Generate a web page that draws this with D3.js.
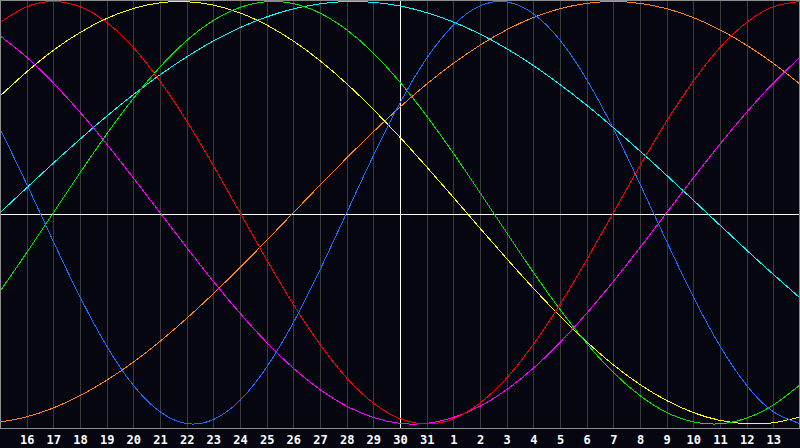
<!DOCTYPE html>
<html lang="en">
  <head>
    <meta charset="utf-8" />
    <title>Biorhythm</title>
    <script src="https://d3js.org/d3.v7.min.js"></script>
    <style type="text/css">
      body {
        margin: 0;
        background-color: #060610;
      }
      .axis text {
        font-family: "DejaVu Sans Mono", monospace;
        font-weight: bold;
        font-size: 12px;
        fill: #ffffff;
      }
      .cycle {
        fill: none;
        stroke-width: 1;
        shape-rendering: crispEdges;
      }
    </style>
  </head>
  <body>
    <script type="text/javascript">
      // Width and height of the plot area
      var w = 800;
      var h = 428;

      // day of month under each grid line (15th .. 14th of next month)
      var days = [15, 16, 17, 18, 19, 20, 21, 22, 23, 24, 25, 26, 27, 28, 29, 30,
        31, 1, 2, 3, 4, 5, 6, 7, 8, 9, 10, 11, 12, 13, 14];
      var todayIndex = 15;

      // cycle values per day, -1 .. 1
      var physical = [0.398, 0.136, -0.136, -0.398, -0.631, -0.817, -0.942, -0.998,
        -0.979, -0.888, -0.731, -0.52, -0.27, 0, 0.27, 0.52, 0.731, 0.888, 0.979,
        0.998, 0.942, 0.817, 0.631, 0.398, 0.136, -0.136, -0.398, -0.631, -0.817,
        -0.942, -0.998];
      var emotional = [0.901, 0.975, 1, 0.975, 0.901, 0.782, 0.623, 0.434, 0.223,
        0, -0.223, -0.434, -0.623, -0.782, -0.901, -0.975, -1, -0.975, -0.901,
        -0.782, -0.623, -0.434, -0.223, 0, 0.223, 0.434, 0.623, 0.782, 0.901,
        0.975, 1];
      var intellectual = [-0.372, -0.189, 0, 0.189, 0.372, 0.541, 0.69, 0.815,
        0.91, 0.972, 0.999, 0.99, 0.945, 0.866, 0.756, 0.618, 0.458, 0.282, 0.095,
        -0.095, -0.282, -0.458, -0.618, -0.756, -0.866, -0.945, -0.99, -0.999,
        -0.972, -0.91, -0.815];
      var intuitive = [0.837, 0.736, 0.614, 0.476, 0.325, 0.165, 0, -0.165, -0.325,
        -0.476, -0.614, -0.736, -0.837, -0.916, -0.969, -0.997, -0.997, -0.969,
        -0.916, -0.837, -0.736, -0.614, -0.476, -0.325, -0.165, 0, 0.165, 0.325,
        0.476, 0.614, 0.736];
      var aesthetic = [0.552, 0.667, 0.769, 0.853, 0.92, 0.967, 0.994, 0.999, 0.983,
        0.946, 0.889, 0.813, 0.72, 0.611, 0.489, 0.357, 0.217, 0.073, -0.073,
        -0.217, -0.357, -0.489, -0.611, -0.72, -0.813, -0.889, -0.946, -0.983,
        -0.999, -0.994, -0.967];
      var awareness = [-0.991, -0.966, -0.924, -0.866, -0.793, -0.707, -0.609, -0.5,
        -0.383, -0.259, -0.131, 0, 0.131, 0.259, 0.383, 0.5, 0.609, 0.707, 0.793,
        0.866, 0.924, 0.966, 0.991, 1, 0.991, 0.966, 0.924, 0.866, 0.793, 0.707,
        0.609];
      var spiritual = [0, 0.118, 0.235, 0.348, 0.457, 0.559, 0.653, 0.738, 0.813,
        0.876, 0.927, 0.965, 0.989, 1, 0.996, 0.979, 0.947, 0.903, 0.846, 0.777,
        0.697, 0.607, 0.509, 0.403, 0.292, 0.177, 0.059, -0.059, -0.177, -0.292,
        -0.403];

      var cycles = [
        { name: "spiritual", color: "#00ffff", values: spiritual },
        { name: "awareness", color: "#ff8418", values: awareness },
        { name: "aesthetic", color: "#ffff00", values: aesthetic },
        { name: "intuitive", color: "#ff00ff", values: intuitive },
        { name: "intellectual", color: "#00e800", values: intellectual },
        { name: "emotional", color: "#ff0000", values: emotional },
        { name: "physical", color: "#1a6cff", values: physical }
      ];

      var xScale = d3.scaleLinear().domain([0, days.length - 1]).range([0, w]);
      var yScale = d3.scaleLinear().domain([-1, 1]).range([424, 1.5]);

      var svg = d3
        .select("body")
        .append("svg")
        .attr("width", 800)
        .attr("height", 448);

      svg
        .append("rect")
        .attr("width", 800)
        .attr("height", 448)
        .attr("fill", "#060610");

      // vertical day grid
      var gridIdx = d3.range(1, days.length - 1);
      var grid = svg
        .append("g")
        .attr("class", "grid")
        .call(
          d3.axisBottom(xScale)
            .tickValues(gridIdx)
            .tickSize(h)
            .tickFormat("")
        );
      grid.select(".domain").remove();
      grid
        .selectAll("line")
        .attr("stroke", function (d) {
          return d === todayIndex ? "#ffffff" : "#3c3c3c";
        })
        .attr("shape-rendering", "crispEdges");
      grid.selectAll(".tick").filter(function (d) {
        return d === todayIndex;
      }).raise();

      // zero line
      svg
        .append("line")
        .attr("x1", 0)
        .attr("x2", w)
        .attr("y1", h / 2 + 0.5)
        .attr("y2", h / 2 + 0.5)
        .attr("stroke", "#ffffff")
        .attr("shape-rendering", "crispEdges");

      // curves
      var line = d3
        .line()
        .x(function (d, i) {
          return xScale(i);
        })
        .y(function (d) {
          return yScale(d);
        })
        .curve(d3.curveNatural);

      svg
        .selectAll(".cycle")
        .data(cycles)
        .enter()
        .append("path")
        .attr("class", "cycle")
        .attr("stroke", function (d) {
          return d.color;
        })
        .attr("d", function (d) {
          return line(d.values);
        });

      // frame
      svg
        .append("rect")
        .attr("x", 0.5)
        .attr("y", 0.5)
        .attr("width", w - 1)
        .attr("height", h)
        .attr("fill", "none")
        .attr("stroke", "#8c8c8c")
        .attr("shape-rendering", "crispEdges");

      // day labels
      var xAxis = d3
        .axisBottom(xScale)
        .tickValues(gridIdx)
        .tickSize(0)
        .tickPadding(7)
        .tickFormat(function (i) {
          return days[i];
        });
      var ax = svg
        .append("g")
        .attr("class", "axis")
        .attr("transform", "translate(0," + h + ")")
        .call(xAxis);
      ax.select(".domain").remove();
    </script>
  </body>
</html>
